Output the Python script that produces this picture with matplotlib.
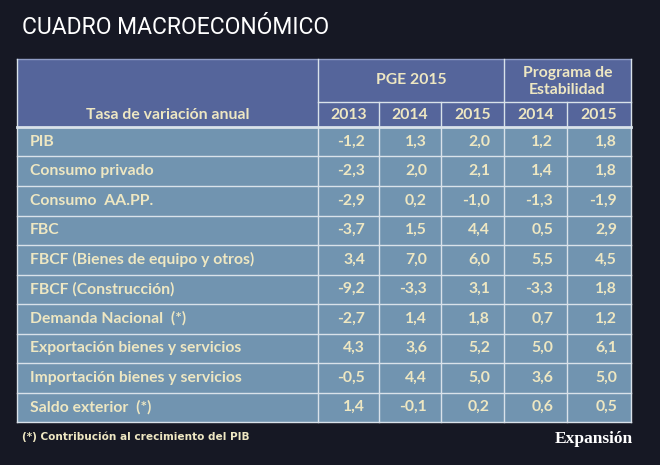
import matplotlib.pyplot as plt
from matplotlib.patches import Rectangle

# Table content
row_labels = ["PIB", "Consumo privado", "Consumo  AA.PP.", "FBC",
              "FBCF (Bienes de equipo y otros)", "FBCF (Construcción)",
              "Demanda Nacional  (*)", "Exportación bienes y servicios",
              "Importación bienes y servicios", "Saldo exterior  (*)"]
pge_2013 = [-1.2, -2.3, -2.9, -3.7, 3.4, -9.2, -2.7, 4.3, -0.5, 1.4]
pge_2014 = [1.3, 2.0, 0.2, 1.5, 7.0, -3.3, 1.4, 3.6, 4.4, -0.1]
pge_2015 = [2.0, 2.1, -1.0, 4.4, 6.0, 3.1, 1.8, 5.2, 5.0, 0.2]
pe_2014 = [1.2, 1.4, -1.3, 0.5, 5.5, -3.3, 0.7, 5.0, 3.6, 0.6]
pe_2015 = [1.8, 1.8, -1.9, 2.9, 4.5, 1.8, 1.2, 6.1, 5.0, 0.5]
year_labels = ["2013", "2014", "2015", "2014", "2015"]

columns = [pge_2013, pge_2014, pge_2015, pe_2014, pe_2015]

bg = "#161824"
head_bg = "#55659b"
cell_bg = "#7194b0"
txt = "#eee7c2"
line = "#d9e2ea"

fig = plt.figure(figsize=(6.6, 4.65), dpi=100)
fig.patch.set_facecolor(bg)
ax = fig.add_axes([0, 0, 1, 1])
ax.set_xlim(0, 660)
ax.set_ylim(465, 0)
ax.axis("off")

font = ["Lato", "DejaVu Sans"]
fs = 11.3

# title
ax.text(22, 27, "CUADRO MACROECONÓMICO", color="white", fontsize=16.5,
        family="Roboto", va="center", ha="left")

# geometry (pixels)
col_x = [17, 318, 379, 441, 504, 567, 631]
top = 59
h1 = 102
h2 = 127
row_h = 29.5
bottom = h2 + row_h * len(row_labels)

# backgrounds
ax.add_patch(Rectangle((col_x[0], top), col_x[-1] - col_x[0], h2 - top,
                       facecolor=head_bg, edgecolor="none"))
ax.add_patch(Rectangle((col_x[0], h2), col_x[-1] - col_x[0], bottom - h2,
                       facecolor=cell_bg, edgecolor="none"))

# grid lines
ax.plot([col_x[0], col_x[-1]], [top, top], color="#8e9bc4", lw=1)
ax.plot([col_x[1], col_x[-1]], [h1, h1], color=line, lw=1)
ax.plot([col_x[0], col_x[-1]], [h2, h2], color=line, lw=2)
for i in range(1, len(row_labels) + 1):
    y = h2 + row_h * i
    ax.plot([col_x[0], col_x[-1]], [y, y], color=line, lw=1)
for j, x in enumerate(col_x):
    y0 = top if j in (0, 1, 4, 6) else h1
    ax.plot([x, x], [y0, bottom], color=line, lw=1)

# header text
ax.text((col_x[1] + col_x[4]) / 2, (top + h1) / 2, "PGE 2015", color=txt,
        fontsize=fs, fontweight="bold", family=font, ha="center", va="center")
ax.text((col_x[4] + col_x[6]) / 2, (top + h1) / 2 + 1, "Programa de\nEstabilidad",
        color=txt, fontsize=fs, fontweight="bold", family=font, ha="center",
        va="center", linespacing=1.2)
ax.text((col_x[0] + col_x[1]) / 2, (h1 + h2) / 2, "Tasa de variación anual",
        color=txt, fontsize=fs, fontweight="bold", family=font,
        ha="center", va="center")
for j, lab in enumerate(year_labels):
    ax.text((col_x[j + 1] + col_x[j + 2]) / 2, (h1 + h2) / 2, lab, color=txt,
            fontsize=fs, fontweight="bold", family=font, ha="center", va="center")

# body
for i, lab in enumerate(row_labels):
    yc = h2 + row_h * (i + 0.5)
    ax.text(30, yc, lab, color=txt, fontsize=fs, fontweight="bold",
            family=font, ha="left", va="center")
    for j, col in enumerate(columns):
        s = f"{col[i]:.1f}".replace(".", ",")
        ax.text(col_x[j + 2] - 14, yc, s, color=txt, fontsize=fs,
                fontweight="bold", family=font, ha="right", va="center")

# footer
ax.text(22, 437, "(*) Contribución al crecimiento del PIB", color=txt,
        fontsize=7.6, fontweight="bold", family="DejaVu Sans",
        ha="left", va="center")
ax.text(633, 439, "Expansión", color="white", fontsize=12.5, fontweight="bold",
        family=["Liberation Serif", "DejaVu Serif"], ha="right", va="center")

fig.savefig("out.png", dpi=100, facecolor=bg)
